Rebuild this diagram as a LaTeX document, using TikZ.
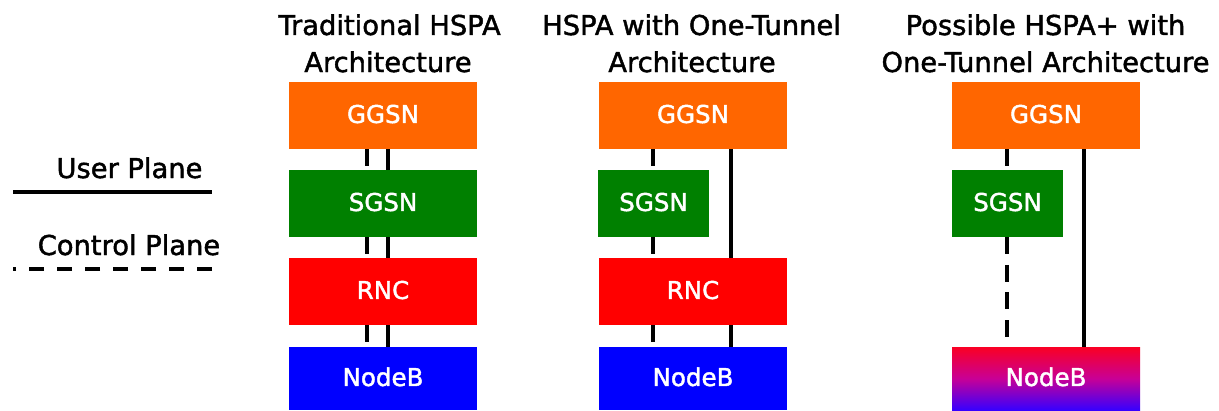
\documentclass[tikz,border=0pt]{standalone}
\usepackage{fontspec}
\setmainfont[FakeBold=1.6,AutoFakeBold=1.6]{DejaVu Sans}
\definecolor{ggsncol}{RGB}{255,102,0}
\definecolor{sgsncol}{RGB}{0,128,0}
\definecolor{rnccol}{RGB}{255,0,0}
\definecolor{nodebcol}{RGB}{0,0,255}
\definecolor{gradtop}{RGB}{250,0,35}
\definecolor{gradmid}{RGB}{200,0,150}
\definecolor{gradbot}{RGB}{55,0,255}
\begin{document}
\begin{tikzpicture}[x=0.75pt,y=-0.75pt,
  box/.style={draw=none,inner sep=0pt,minimum height=50.25pt,text=white,
    font=\fontsize{18.4}{22}\selectfont\bfseries,text height=13.4pt,text depth=2.2pt},
  wide/.style={box,minimum width=141pt},
  narrow/.style={box,minimum width=83.25pt},
  ggsnbox/.style={wide,fill=ggsncol},
  sgsnbox/.style={narrow,fill=sgsncol},
  sgsnwide/.style={wide,fill=sgsncol},
  rncbox/.style={wide,fill=rnccol},
  nodebbox/.style={wide,minimum height=47.25pt,fill=nodebcol},
  user/.style={line width=2.4pt,line cap=butt},
  ctrl/.style={line width=2.4pt,line cap=butt,dash pattern=on 12.75pt off 7.95pt},
  legctrl/.style={line width=2.4pt,line cap=butt,dash pattern=on 11.25pt off 9.75pt},
  title/.style={font=\fontsize{20.5}{24}\selectfont\bfseries,anchor=base,inner sep=0pt}]
\useasboundingbox (0,0) rectangle (1219,410);

% titles
\node[title] (t1a) at (389.5,35) {Traditional HSPA};
\node[title] (t1b) at (388,72) {Architecture};
\node[title] (t2a) at (691.5,35) {HSPA with One-Tunnel};
\node[title] (t2b) at (692,72) {Architecture};
\node[title] (t3a) at (1045.5,35) {Possible HSPA+ with};
\node[title] (t3b) at (1045.5,72) {One-Tunnel Architecture};

% legend
\node[title] (lu) at (129.5,178) {User Plane};
\node[title] (lc) at (129,255) {Control Plane};
\coordinate (us) at (13,192);
\coordinate (ue) at (212,192);
\coordinate (cs) at (13,269);
\coordinate (ce) at (212,269);
\draw[user] (us) -- (ue);
\draw[legctrl] (ce) -- (cs);

% column 1
\node[ggsnbox] (ggsn1) at (383,115.5) {GGSN};
\node[sgsnwide] (sgsn1) at (383,203.5) {SGSN};
\node[rncbox] (rnc1) at (383,291.5) {RNC};
\node[nodebbox] (nodeb1) at (383,378.5) {NodeB};
\coordinate (c1) at (367,0);
\coordinate (u1) at (388,0);
\draw[ctrl] (ggsn1.south -| c1) -- (sgsn1.north -| c1);
\draw[ctrl] (sgsn1.south -| c1) -- (rnc1.north -| c1);
\draw[ctrl] (rnc1.south -| c1) -- (nodeb1.north -| c1);
\draw[user] (ggsn1.south -| u1) -- (sgsn1.north -| u1);
\draw[user] (sgsn1.south -| u1) -- (rnc1.north -| u1);
\draw[user] (rnc1.south -| u1) -- (nodeb1.north -| u1);

% column 2
\node[ggsnbox] (ggsn2) at (693,115.5) {GGSN};
\node[sgsnbox] (sgsn2) at (653.5,203.5) {SGSN};
\node[rncbox] (rnc2) at (693,291.5) {RNC};
\node[nodebbox] (nodeb2) at (693,378.5) {NodeB};
\coordinate (c2) at (653,0);
\coordinate (u2) at (731,0);
\draw[ctrl] (ggsn2.south -| c2) -- (sgsn2.north -| c2);
\draw[ctrl] (sgsn2.south -| c2) -- (rnc2.north -| c2);
\draw[ctrl] (rnc2.south -| c2) -- (nodeb2.north -| c2);
\draw[user] (ggsn2.south -| u2) -- (rnc2.north -| u2);
\draw[user] (rnc2.south -| u2) -- (nodeb2.north -| u2);

% column 3
\node[ggsnbox] (ggsn3) at (1046,115.5) {GGSN};
\node[sgsnbox] (sgsn3) at (1007.5,203.5) {SGSN};
\node[nodebbox,top color=gradtop,bottom color=gradbot,middle color=gradmid] (nodeb3) at (1046,378.5) {NodeB};
\coordinate (c3) at (1007,0);
\coordinate (u3) at (1084,0);
\draw[ctrl] (ggsn3.south -| c3) -- (sgsn3.north -| c3);
\draw[ctrl] (sgsn3.south -| c3) -- (nodeb3.north -| c3);
\draw[user] (ggsn3.south -| u3) -- (nodeb3.north -| u3);
\end{tikzpicture}
\end{document}
